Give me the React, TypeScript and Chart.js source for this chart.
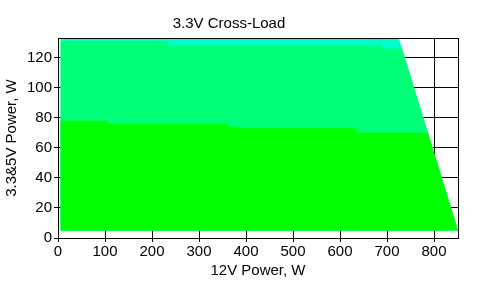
import React, { useEffect, useRef } from "react";
import { Chart, registerables } from "chart.js";

Chart.register(...registerables);

const TITLE = "3.3V Cross-Load";
const X_LABEL = "12V Power, W";
const Y_LABEL = "3.3&5V Power, W";

// Region 1 (bright green): top boundary points (12V W, 3.3&5V W)
const lowX = [5, 106, 106, 361, 361, 385, 385, 635, 635, 787, 851];
const lowY = [78, 78, 76, 76, 74, 74, 73, 73, 70, 70, 5];

// Region 2 (light green)
const midX = [5, 234, 234, 690, 690, 732, 851];
const midY = [131, 131, 128, 128, 126, 126, 5];

// Region 3 (cyan)
const highX = [5, 725, 851];
const highY = [133, 133, 5];

const X_MIN = 0;
const X_MAX = 851;
const X_STEP = 100;
const Y_MIN = 0;
const Y_MAX = 133;
const Y_STEP = 20;
const FILL_BASE = 5;

const FONT = "'Liberation Sans', Arial, sans-serif";

const toPts = (xs: number[], ys: number[]) => xs.map((x, i) => ({ x, y: ys[i] }));

const boxPlugin = {
  id: "box",
  afterDatasetsDraw(chart: any) {
    const { ctx, chartArea } = chart;
    ctx.save();
    ctx.strokeStyle = "#000";
    ctx.lineWidth = 1;
    ctx.strokeRect(
      Math.round(chartArea.left) + 0.5,
      Math.round(chartArea.top) + 0.5,
      Math.round(chartArea.right - chartArea.left),
      Math.round(chartArea.bottom - chartArea.top)
    );
    ctx.restore();
  },
};

export default function App() {
  const ref = useRef<HTMLCanvasElement>(null);
  useEffect(() => {
    document.body.style.margin = "0";
    const ds = (xs: number[], ys: number[], color: string) => ({
      data: toPts(xs, ys),
      borderWidth: 0,
      borderColor: "rgba(0,0,0,0)",
      backgroundColor: color,
      pointRadius: 0,
      fill: { value: FILL_BASE },
      tension: 0,
    });
    const chart = new Chart(ref.current!, {
      type: "line",
      data: {
        datasets: [
          ds(lowX, lowY, "#00ff00"),
          ds(midX, midY, "#00ff77"),
          ds(highX, highY, "#00ffcc"),
        ] as any,
      },
      options: {
        animation: false,
        responsive: false,
        devicePixelRatio: 1,
        layout: { padding: { left: 0, right: 29, top: 0, bottom: 0 } },
        plugins: {
          legend: { display: false },
          tooltip: { enabled: false },
          title: {
            display: true,
            text: TITLE,
            color: "#000",
            font: { family: FONT, size: 15, weight: "normal" },
            padding: { top: 15, bottom: 5 },
          },
        },
        scales: {
          x: {
            type: "linear",
            min: X_MIN,
            max: X_MAX,
            afterFit: (s: any) => {
              s.height = 48;
            },
            ticks: {
              stepSize: X_STEP,
              includeBounds: false,
              color: "#000",
              font: { family: FONT, size: 15 },
              padding: 1,
              maxRotation: 0,
            },
            grid: { color: "#000", lineWidth: 1, tickLength: 4, tickColor: "#000" },
            border: { display: true, color: "#000" },
            title: {
              display: true,
              text: X_LABEL,
              color: "#000",
              font: { family: FONT, size: 15 },
              padding: { top: 0, bottom: 6 },
            },
          },
          y: {
            type: "linear",
            min: Y_MIN,
            max: Y_MAX,
            afterFit: (s: any) => {
              s.width = 58;
            },
            ticks: {
              stepSize: Y_STEP,
              includeBounds: false,
              color: "#000",
              font: { family: FONT, size: 15 },
              padding: 2,
            },
            grid: { color: "#000", lineWidth: 1, tickLength: 4, tickColor: "#000" },
            border: { display: true, color: "#000" },
            title: {
              display: true,
              text: Y_LABEL,
              color: "#000",
              font: { family: FONT, size: 15 },
              padding: { top: 3, bottom: 0 },
            },
          },
        },
      },
      plugins: [boxPlugin],
    });
    return () => chart.destroy();
  }, []);
  return <canvas ref={ref} width={487} height={286} style={{ display: "block" }} />;
}
